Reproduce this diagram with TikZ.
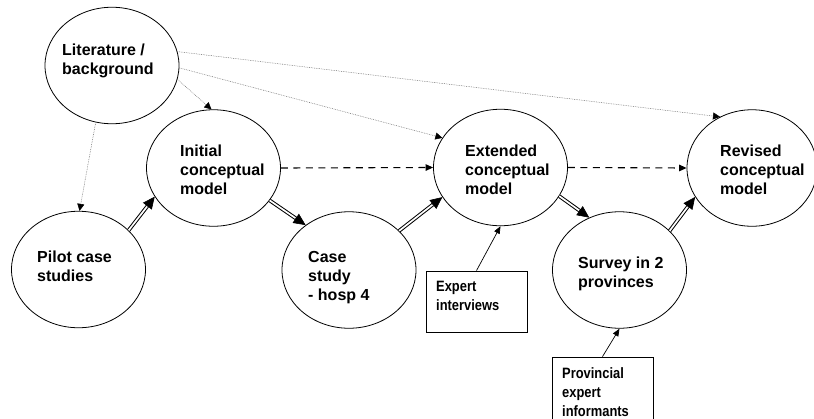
\documentclass[tikz,border=0pt]{standalone}
\usepackage{fontspec}
\setmainfont{Liberation Sans}
\newfontfamily\boxfont[FakeStretch=0.86]{Liberation Sans}
\usetikzlibrary{shapes.geometric,arrows.meta,calc}
\newcommand{\mylines}[1]{\begin{tabular}[t]{@{}l@{}}#1\end{tabular}}
\newcommand{\dblarrow}[2]{%
  \draw[dblline] (#1) -- ($(#2)!10pt!(#1)$);
  \draw[bighead] ($(#2)!12.5pt!(#1)$) -- (#2);}
\begin{document}
\begin{tikzpicture}[x=1pt,y=-1pt,
  bubble/.style={ellipse, draw, line width=0.8pt, minimum width=134pt, minimum height=116.5pt, inner sep=0pt},
  lbl/.style={anchor=base west, inner sep=0pt, font=\fontsize{16}{19}\selectfont\bfseries},
  boxlbl/.style={anchor=base west, inner sep=0pt, font=\boxfont\fontsize{15}{19}\selectfont\bfseries},
  srcbox/.style={draw, line width=0.8pt, inner sep=0pt, minimum width=101pt},
  dots/.style={draw=black!60, line width=0.5pt, dash pattern=on 0.7pt off 1pt, -{Triangle[length=7pt,width=7pt,color=black]}},
  dashes/.style={line width=1.1pt, dash pattern=on 7pt off 5.5pt, -{Triangle[length=7.5pt,width=6.5pt]}},
  thinarrow/.style={line width=0.7pt, -{Triangle[length=7.5pt,width=6pt]}},
  dblline/.style={double, line width=1pt, double distance=1.7pt},
  bighead/.style={line width=0.6pt, -{Triangle[length=12pt,width=11pt]}}
]
\useasboundingbox (0,0) rectangle (814,418);
\clip (0,0) rectangle (814,418);
\fill[white] (0,0) rectangle (814,418);

% ellipses
\node[bubble] (lit) at (112,65.5) {};
\node[bubble] (init) at (213.5,168) {};
\node[bubble] (pilot) at (78.5,269.5) {};
\node[bubble] (case) at (349,270) {};
\node[bubble] (ext) at (500.5,167.5) {};
\node[bubble, minimum width=130pt] (rev) at (752,168) {};
\node[bubble] (surv) at (619.5,270) {};

% ellipse texts
\node[lbl] (litT) at (62,55) {\mylines{Literature /\\background}};
\node[lbl] (initT) at (180,156) {\mylines{Initial\\conceptual\\model}};
\node[lbl] (extT) at (465,156) {\mylines{Extended\\conceptual\\model}};
\node[lbl] (revT) at (720,156) {\mylines{Revised\\conceptual\\model}};
\node[lbl] (pilotT) at (37,262) {\mylines{Pilot case\\studies}};
\node[lbl] (caseT) at (308,262.3) {\mylines{Case\\study\\- hosp 4}};
\node[lbl] (survT) at (578,268.3) {\mylines{Survey in 2\\provinces}};

% boxes
\node[srcbox, minimum height=61pt] (expert) at (476.5,301.5) {};
\node[boxlbl] (expertT) at (436,291.7) {\mylines{Expert\\interviews}};
\node[srcbox, minimum height=70pt] (prov) at (602.5,392) {};
\node[boxlbl] (provT) at (562,378.3) {\mylines{Provincial\\expert\\informants}};

% dotted influences from literature
\draw[dots] (lit.-12) -- (init.92);
\draw[dots] (lit.254) -- (pilot.89);
\draw[dots] (lit.-2) -- (ext.153);
\draw[dots] (lit.12) -- (rev.122.5);

% dashed model evolution
\draw[dashes] (init.east) -- (ext.west);
\draw[dashes] (ext.east) -- (rev.west);

% thin inputs
\draw[thinarrow] (expert.north) -- (ext.south);
\draw[thinarrow] (prov.north) -- (surv.south);

% double arrows
\dblarrow{pilot.38.8}{init.206}
\dblarrow{init.-30.3}{case.134.4}
\dblarrow{case.38.5}{ext.207}
\dblarrow{ext.-26.5}{surv.120.6}
\dblarrow{surv.38}{rev.207.6}
\end{tikzpicture}
\end{document}
